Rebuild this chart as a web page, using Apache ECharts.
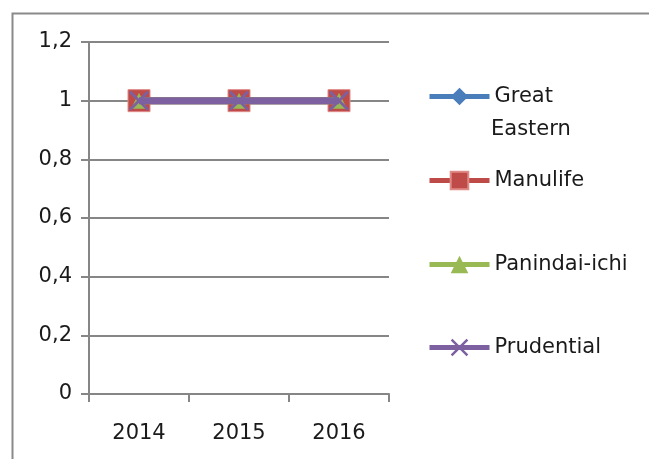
<!DOCTYPE html>
<html>
<head>
<meta charset="utf-8">
<script src="https://cdn.jsdelivr.net/npm/echarts@6/dist/echarts.min.js"></script>
<style>html,body{margin:0;padding:0;background:#fff;}#c{width:649px;height:459px;}</style>
</head>
<body>
<div id="c"></div>
<script>
var categories = ['2014', '2015', '2016'];
var seriesNames = ['Great Eastern', 'Manulife', 'Panindai-ichi', 'Prudential'];
var greatEastern = [1, 1, 1];
var manulife = [1, 1, 1];
var panindaiIchi = [1, 1, 1];
var prudential = [1, 1, 1];
var yTicks = { min: 0, max: 1.2, interval: 0.2 };

var FONT = 'DejaVu Sans';
var FS = 21;
var TXT = '#1a1a1a';
var colors = ['#4A7EBB', '#BE4B48', '#98B954', '#7D60A0'];
var xPath = 'path://M0,2 L2,0 L10,8 L18,0 L20,2 L12,10 L20,18 L18,20 L10,12 L2,20 L0,18 L8,10 Z';
var symbols = ['diamond', 'rect', 'triangle', xPath];
var sizes = [14, 22, 16, 20];
var dataArr = [greatEastern, manulife, panindaiIchi, prudential];

var series = seriesNames.map(function (n, i) {
  return {
    name: n, type: 'line', data: dataArr[i],
    symbol: symbols[i], symbolSize: sizes[i],
    lineStyle: { color: colors[i], width: 7 },
    itemStyle: { color: colors[i], borderColor: i === 1 ? '#E08A88' : colors[i], borderWidth: i === 1 ? 1 : 0 },
    z: 2 + i, animation: false
  };
});

var legendCenters = [98, 182, 266, 349];
var legends = seriesNames.map(function (n, i) {
  return {
    data: [n], orient: 'vertical', left: 427,
    top: legendCenters[i] - 12,
    itemWidth: 60, itemHeight: 22, padding: 0,
    formatter: i === 0 ? function () { return 'Great'; } : undefined,
    lineStyle: { width: 5 },
    textStyle: { fontFamily: FONT, fontSize: FS, color: TXT },
    selectedMode: false
  };
});

var chart = echarts.init(document.getElementById('c'));
chart.setOption({
  animation: false,
  backgroundColor: '#fff',
  graphic: [
    { type: 'rect', left: 10, top: 11, shape: { width: 700, height: 500 }, style: { fill: 'none', stroke: '#8a8a8a', lineWidth: 2 }, silent: true },
    { type: 'text', left: 491, top: 119, style: { text: 'Eastern', fontFamily: FONT, fontSize: FS, fill: TXT }, silent: true }
  ],
  grid: { left: 89, right: 260, top: 42, bottom: 65 },
  legend: legends,
  xAxis: {
    type: 'category', data: categories, boundaryGap: true,
    axisLine: { lineStyle: { color: '#868686', width: 2 } },
    axisTick: { show: true, length: 8, lineStyle: { color: '#868686', width: 2 } },
    axisLabel: { fontFamily: FONT, fontSize: FS, color: TXT, margin: 29 }
  },
  yAxis: {
    type: 'value', min: yTicks.min, max: yTicks.max, interval: yTicks.interval,
    axisLine: { show: true, lineStyle: { color: '#868686', width: 2 } },
    axisTick: { show: true, inside: false, length: 8, lineStyle: { color: '#868686', width: 2 } },
    splitLine: { lineStyle: { color: '#868686', width: 2 } },
    axisLabel: { fontFamily: FONT, fontSize: FS, color: TXT, margin: 17,
      formatter: function (v) { return String(Math.round(v * 10) / 10).replace('.', ','); } }
  },
  series: series
});
</script>
</body>
</html>
